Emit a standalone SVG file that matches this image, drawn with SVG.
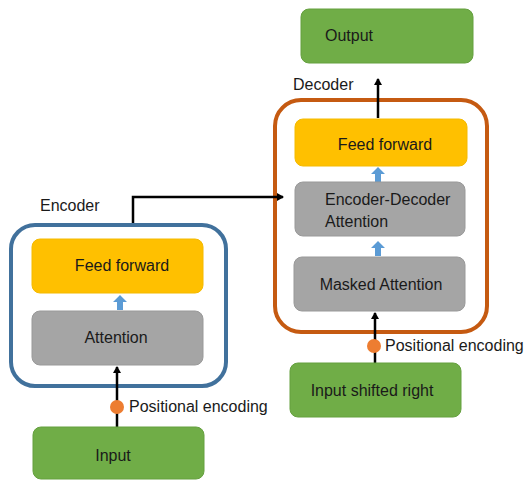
<svg xmlns="http://www.w3.org/2000/svg" width="527" height="480" viewBox="0 0 527 480">
<style>
text{font-family:"Liberation Sans",Arial,sans-serif;font-size:16px;fill:#1a1a1a}
.ff{fill:#FFC000;stroke:#F4BA00;stroke-width:1}
.att{fill:#A5A5A5;stroke:#999;stroke-width:1}
.io{fill:#70AD47;stroke:#65A03F;stroke-width:1}
.blk{stroke:#000;stroke-width:2.5;fill:none}
.pe{fill:#ED7D31}
.up{fill:#5B9BD5}
</style>
<defs>
<marker id="ah" markerWidth="8" markerHeight="8" refX="6" refY="4" orient="auto" markerUnits="userSpaceOnUse">
<path d="M0,0 L7,4 L0,8 Z" fill="#000"/>
</marker>
<path id="blue" d="M-3,0 V-8 H-7 L0,-15 L7,-8 H3 V0 Z"/>
</defs>
<rect width="527" height="480" fill="#fff"/>

<g id="encoder">
<rect x="11" y="225" width="215" height="161" rx="24" fill="none" stroke="#41719C" stroke-width="4"/>
<text x="40" y="211">Encoder</text>
</g>
<g id="decoder">
<rect x="275" y="100" width="212" height="232" rx="26" fill="none" stroke="#C55A11" stroke-width="4"/>
<text x="293" y="90">Decoder</text>
</g>

<g id="connectors">
<path class="blk" d="M117,427 V367" marker-end="url(#ah)"/>
<path class="blk" d="M375,363 V313" marker-end="url(#ah)"/>
<path class="blk" d="M133,223 V197 H283" marker-end="url(#ah)"/>
<path class="blk" d="M378,118 V79" marker-end="url(#ah)"/>
<use href="#blue" x="120" y="310" class="up"/>
<use href="#blue" x="378" y="182" class="up"/>
<use href="#blue" x="378" y="256" class="up"/>
<circle class="pe" cx="117" cy="407" r="7"/>
<circle class="pe" cx="374" cy="346" r="7"/>
<text x="129" y="412">Positional encoding</text>
<text x="385" y="351">Positional encoding</text>
</g>

<g id="enc-ff">
<rect class="ff" x="32" y="239" width="171" height="54" rx="8"/>
<text x="122" y="271" text-anchor="middle">Feed forward</text>
</g>
<g id="enc-att">
<rect class="att" x="32" y="311" width="171" height="54" rx="8"/>
<text x="116" y="343" text-anchor="middle">Attention</text>
</g>
<g id="input">
<rect class="io" x="33" y="427" width="171" height="52" rx="8"/>
<text x="113" y="461" text-anchor="middle">Input</text>
</g>

<g id="output">
<rect class="io" x="301" y="9" width="172" height="54" rx="8"/>
<text x="325" y="41">Output</text>
</g>
<g id="dec-ff">
<rect class="ff" x="295" y="119" width="172" height="47" rx="8"/>
<text x="385" y="150" text-anchor="middle">Feed forward</text>
</g>
<g id="dec-encdec">
<rect class="att" x="295" y="182" width="170" height="54" rx="8"/>
<text x="325" y="205">Encoder-Decoder</text>
<text x="325" y="227">Attention</text>
</g>
<g id="dec-masked">
<rect class="att" x="294" y="257" width="171" height="54" rx="8"/>
<text x="381" y="290" text-anchor="middle">Masked Attention</text>
</g>
<g id="input-shifted">
<rect class="io" x="290" y="363" width="171" height="54" rx="8"/>
<text x="372" y="396" text-anchor="middle">Input shifted right</text>
</g>
</svg>
